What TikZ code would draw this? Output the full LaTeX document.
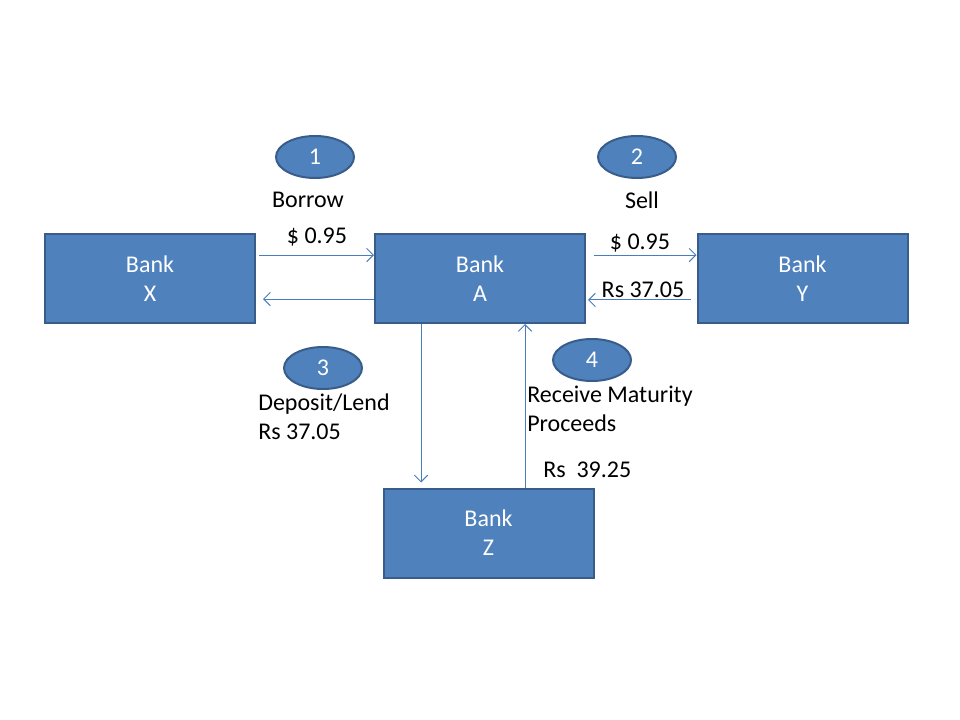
\documentclass[tikz,border=0pt]{standalone}
\usepackage{fontspec}
\setmainfont{Carlito}
\usetikzlibrary{arrows.meta}
\usetikzlibrary{shapes.geometric}
\definecolor{boxfill}{HTML}{4F81BD}
\definecolor{boxline}{HTML}{385D8A}
\definecolor{arrline}{HTML}{4A7EBB}
\tikzset{
  bank/.style={rectangle,fill=boxfill,draw=boxline,line width=1.5pt,minimum width=157.5pt,minimum height=66.75pt,text=white,align=center,font=\fontsize{18}{21.75}\selectfont},
  stepnum/.style={ellipse,fill=boxfill,draw=boxline,line width=1.5pt,minimum width=58.5pt,minimum height=31.5pt,inner sep=0pt,text=white,font=\fontsize{18}{21.75}\selectfont},
  lbl/.style={inner sep=0pt,text=black,align=left,font=\fontsize{18}{21.75}\selectfont},
  arr/.style={draw=arrline,line width=0.75pt,-{Straight Barb[length=5pt,width=10pt,line width=0.75pt]}}
}
\begin{document}
\begin{tikzpicture}[x=0.75pt,y=-0.75pt]
\useasboundingbox[fill=white] (0,0) rectangle (960,720);
\node[bank] (X) at (150,278.5) {Bank\\X};
\node[bank] (A) at (480,278.5) {Bank\\A};
\node[bank] (Y) at (802.5,278.5) {Bank\\Y};
\node[bank] (Z) at (488.5,533) {Bank\\Z};

\node[stepnum] (n1) at (315,157) {1};
\node[stepnum] (n2) at (637,157) {2};
\node[stepnum] (n3) at (323,368) {3};
\node[stepnum] (n4) at (592,360) {4};

\node[lbl] (borrow) at (308,200) {Borrow};
\node[lbl] (dolxa) at (317,237) {\$ 0.95};
\node[lbl] (sell) at (642,200) {Sell};
\node[lbl] (dolay) at (640,243) {\$ 0.95};
\node[lbl] (rsya) at (643,290) {Rs 37.05};
\node[lbl,anchor=west] (deposit) at (258,417) {Deposit/Lend\\Rs 37.05};
\node[lbl,anchor=west] (receive) at (527,408.5) {Receive Maturity\\Proceeds};
\node[lbl,anchor=west] (rsza) at (543,470) {Rs\ \ 39.25};

% X <-> A
\draw[arr,shorten <=2.25pt] ([yshift=17.6pt]X.east) -- ([yshift=17.6pt]A.west);
\draw[arr,shorten >=5.25pt] ([yshift=-15.4pt]A.west) -- ([yshift=-15.4pt]X.east);
% A <-> Y
\draw[arr,shorten <=6pt] ([yshift=17.6pt]A.east) -- ([yshift=17.6pt]Y.west);
\draw[arr,shorten <=4.5pt,shorten >=1.5pt] ([yshift=-16.1pt]Y.west) -- ([yshift=-16.1pt]A.east);
% A <-> Z
\draw[arr,shorten >=3.75pt] ([xshift=-44.25pt]A.south) -- ([xshift=-44.25pt]A.south |- Z.north);
\draw[arr] ([xshift=33.75pt]A.south |- Z.north) -- ([xshift=33.75pt]A.south);
\end{tikzpicture}
\end{document}
